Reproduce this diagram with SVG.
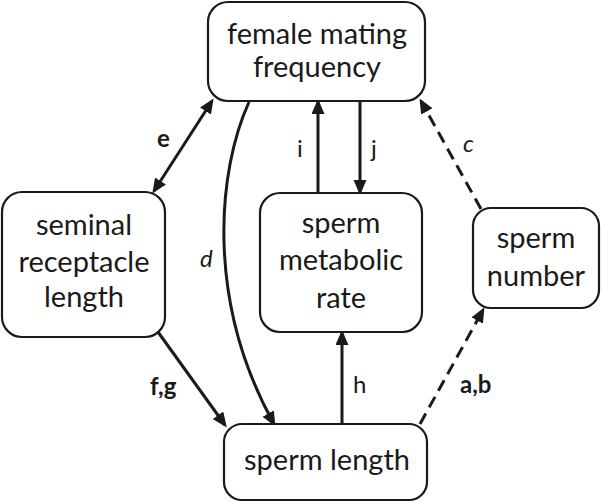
<svg xmlns="http://www.w3.org/2000/svg" width="603" height="502" viewBox="0 0 603 502">
<style>
.box{fill:#fff;stroke:#1a1a1a;stroke-width:2.2}
.t{font-family:Lato,"Open Sans",sans-serif;font-size:29px;fill:#1a1a1a;text-anchor:middle}
.c{fill:none;stroke:#1a1a1a;stroke-width:3}
.dash{stroke-dasharray:12 7}
.l{font-family:Lato,"Open Sans",sans-serif;font-size:24px;fill:#1a1a1a}
.b{font-weight:bold}
.it{font-style:italic}
</style>
<defs>
<marker id="ah" markerUnits="userSpaceOnUse" markerWidth="16" markerHeight="14" refX="12" refY="6.5" orient="auto-start-reverse" viewBox="0 0 16 14">
<path d="M0,0 L15,6.5 L0,13 z" fill="#1a1a1a"/>
</marker>
</defs>
<g id="connectors">
<line class="c" x1="154" y1="191" x2="212" y2="101" marker-start="url(#ah)" marker-end="url(#ah)"/>
<path class="c" d="M249,102 C218,170 205,300 274,424" marker-end="url(#ah)"/>
<line class="c" x1="318" y1="193" x2="318" y2="102" marker-end="url(#ah)"/>
<line class="c" x1="360" y1="101" x2="360" y2="192" marker-end="url(#ah)"/>
<line class="c dash" x1="481" y1="209" x2="421" y2="101" marker-end="url(#ah)"/>
<line class="c" x1="158" y1="332" x2="225" y2="425" marker-end="url(#ah)"/>
<line class="c" x1="342" y1="424" x2="342" y2="333" marker-end="url(#ah)"/>
<line class="c dash" x1="420" y1="424" x2="483" y2="310" marker-end="url(#ah)"/>
<text class="l b" x="157" y="147">e</text>
<text class="l it" x="200" y="267">d</text>
<text class="l" x="297" y="157">i</text>
<text class="l" x="371" y="157">j</text>
<text class="l it" x="463" y="152">c</text>
<text class="l b" x="150" y="395">f,g</text>
<text class="l" x="353" y="393">h</text>
<text class="l b" x="460" y="393">a,b</text>
</g>
<g id="female-mating-frequency">
<rect class="box" x="208" y="2" width="217" height="99" rx="20"/>
<text class="t" x="317" y="44">female mating</text>
<text class="t" x="317" y="77">frequency</text>
</g>
<g id="seminal-receptacle-length">
<rect class="box" x="2" y="192" width="163" height="145" rx="20"/>
<text class="t" x="84" y="235">seminal</text>
<text class="t" x="84" y="272">receptacle</text>
<text class="t" x="84" y="307">length</text>
</g>
<g id="sperm-metabolic-rate">
<rect class="box" x="260" y="193" width="162" height="139" rx="20"/>
<text class="t" x="341" y="233">sperm</text>
<text class="t" x="341" y="270">metabolic</text>
<text class="t" x="341" y="308">rate</text>
</g>
<g id="sperm-number">
<rect class="box" x="473" y="208" width="126" height="100" rx="18"/>
<text class="t" x="536" y="248">sperm</text>
<text class="t" x="536" y="286">number</text>
</g>
<g id="sperm-length">
<rect class="box" x="224" y="424" width="203" height="76" rx="18"/>
<text class="t" x="327" y="470">sperm length</text>
</g>
</svg>
